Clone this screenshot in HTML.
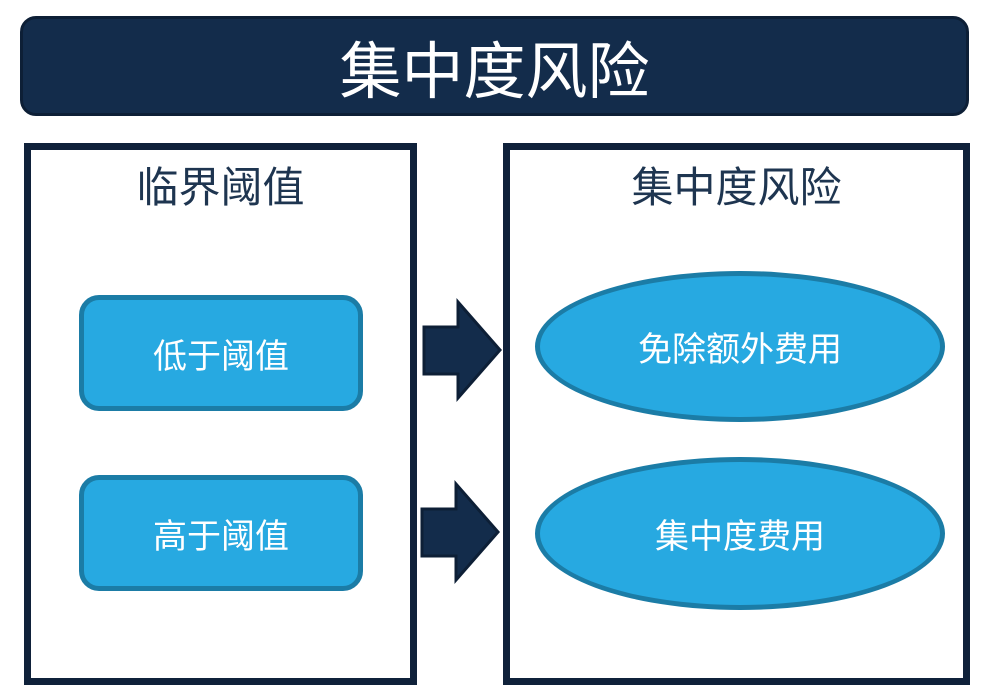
<!DOCTYPE html>
<html><head><meta charset="utf-8"><style>
body{margin:0;width:988px;height:692px;background:#fff;position:relative;overflow:hidden;font-family:"Liberation Sans","Noto Sans CJK SC",sans-serif}
.a{position:absolute;box-sizing:border-box}
.t{display:flex;align-items:center;justify-content:center}
</style></head><body>
<div class="a t" style="left:20px;top:16px;width:949px;height:100px;background:#132c4b;border:3px solid #0d1f36;border-radius:16px;color:#fff;font-size:62px;">集中度风险</div>
<div class="a" style="left:24px;top:143px;width:393px;height:542px;border:7px solid #0f213a;"></div>
<div class="a" style="left:503px;top:143px;width:467px;height:542px;border:7px solid #0f213a;"></div>
<div class="a t" style="left:24px;top:158px;width:393px;height:52px;color:#1e3550;font-size:42px;">临界阈值</div>
<div class="a t" style="left:503px;top:158px;width:467px;height:52px;color:#1e3550;font-size:42px;">集中度风险</div>
<div class="a t" style="left:79px;top:295px;width:284px;height:116px;background:#27a9e1;border:5px solid #1b7ca6;border-radius:20px;color:#fff;font-size:34px;">低于阈值</div>
<div class="a t" style="left:79px;top:475px;width:284px;height:116px;background:#27a9e1;border:5px solid #1b7ca6;border-radius:20px;color:#fff;font-size:34px;">高于阈值</div>
<div class="a t" style="left:535px;top:271px;width:410px;height:151px;background:#27a9e1;border:5px solid #1b7ca6;border-radius:50%;color:#fff;font-size:34px;">免除额外费用</div>
<div class="a t" style="left:535px;top:457px;width:410px;height:153px;background:#27a9e1;border:5px solid #1b7ca6;border-radius:50%;color:#fff;font-size:34px;">集中度费用</div>
<svg class="a" style="left:0;top:0" width="988" height="692">
<polygon points="424,327 458,327 458,302 500,350 458,398 458,374 424,374" fill="#132c4b" stroke="#0d1f36" stroke-width="3"/>
<polygon points="422,509 456,509 456,484 498,532 456,580 456,556 422,556" fill="#132c4b" stroke="#0d1f36" stroke-width="3"/>
</svg>
</body></html>
